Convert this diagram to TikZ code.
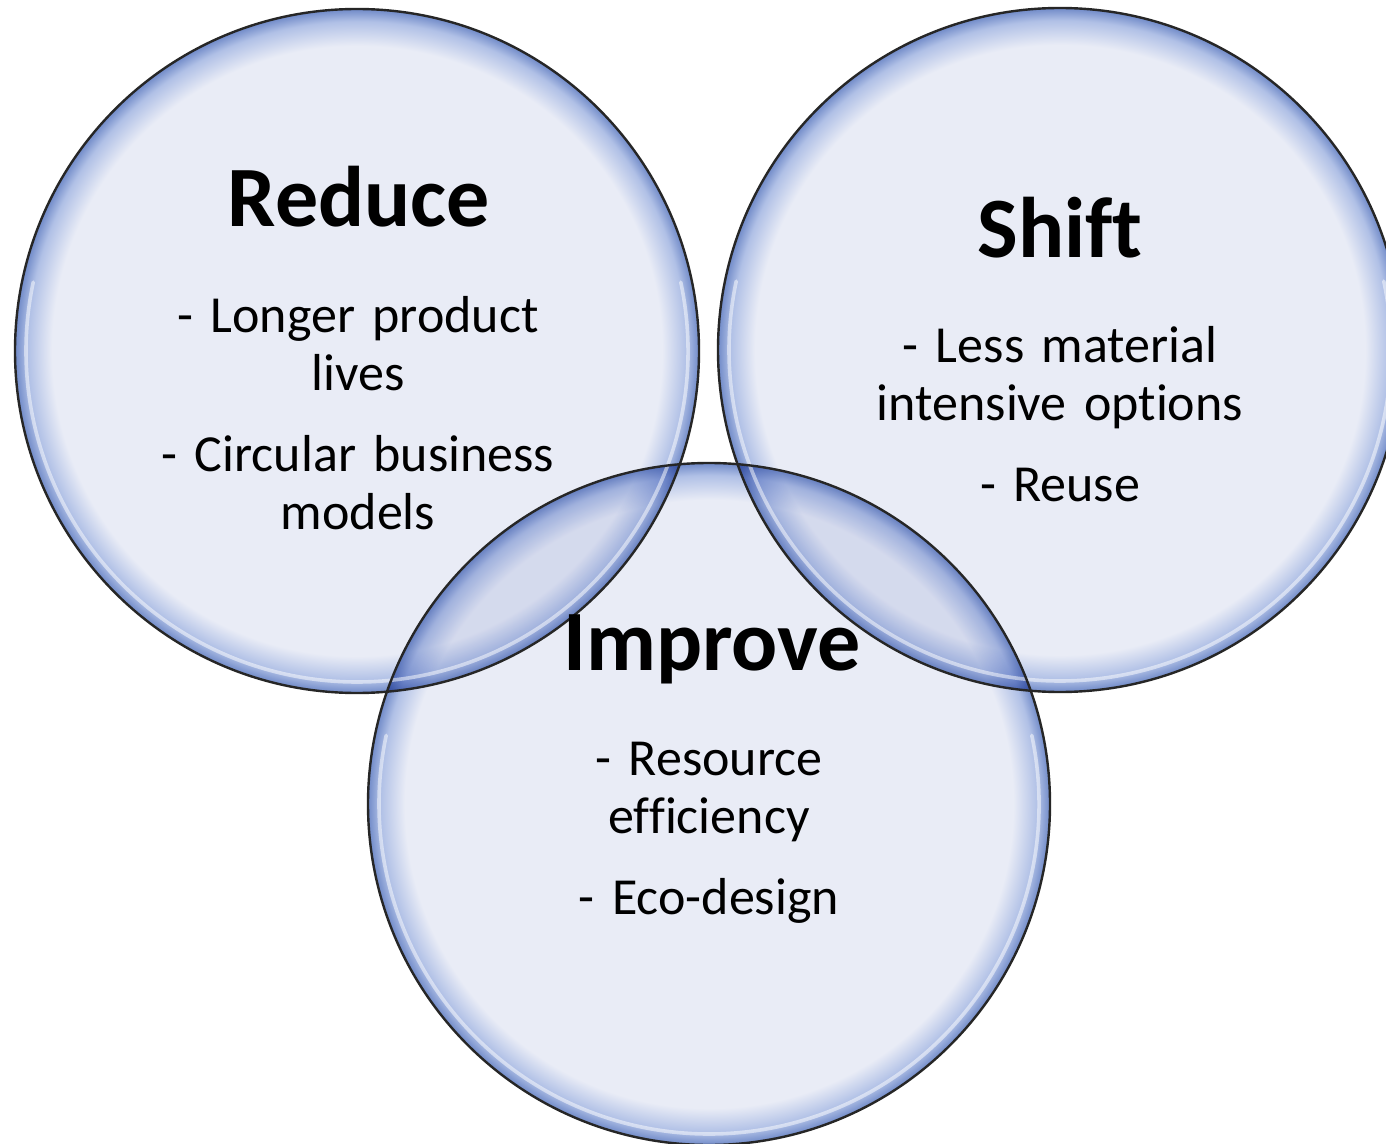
\documentclass[tikz,border=0pt]{standalone}
\usepackage{fontspec}
\setmainfont{Carlito}[Ligatures=NoCommon]
\usetikzlibrary{calc}

\definecolor{bubfill}{RGB}{233,236,246}
\definecolor{bubrim}{RGB}{176,192,230}
\definecolor{bubedge}{RGB}{112,138,200}

\pgfdeclareradialshading{bubble}{\pgfpoint{0bp}{0bp}}{color(0bp)=(bubfill); color(22.3bp)=(bubfill); color(24.1bp)=(bubrim); color(25bp)=(bubedge); color(50bp)=(bubedge)}

\tikzset{
  bubble/.style={shading=bubble},
  rim/.style={draw=black!85, line width=1.2pt},
  glint/.style={white, line width=1.8pt, opacity=0.5, line cap=round},
  title/.style={font=\bfseries\fontsize{43}{52}\selectfont, anchor=base, inner sep=0pt},
  items/.style={font=\fontsize{26}{29}\selectfont, align=center, text width=240pt, anchor=base, inner sep=0pt}
}

\begin{document}
\begin{tikzpicture}[x=0.5pt, y=-0.5pt]
    \useasboundingbox (0,0) rectangle (1386,1144);
    \fill[white] (0,0) rectangle (1386,1144);
    \clip (0,0) rectangle (1386,1144);

    \coordinate (reduce) at (357,351);
    \coordinate (shift) at (1060,350);
    \coordinate (improve) at (709,804);

    % the three bubbles, overlaps get darker
    \begin{scope}[blend mode=multiply]
        \shade[bubble] (reduce) circle (342);
        \shade[bubble] (shift) circle (342);
        \shade[bubble] (improve) circle (341);
    \end{scope}

    \draw[glint] ([shift={(-12:331)}]reduce) arc[start angle=-12, end angle=192, radius=331];
    \draw[glint] ([shift={(-12:331)}]shift) arc[start angle=-12, end angle=192, radius=331];
    \draw[glint] ([shift={(-12:330)}]improve) arc[start angle=-12, end angle=192, radius=330];

    \draw[rim] (reduce) circle (342);
    \draw[rim] (shift) circle (342);
    \draw[rim] (improve) circle (341);

    \node[title] (reduceT) at (359,227) {Reduce};
    \node[items] (reduceL) at (358,333) {- Longer product\\lives\\[11.5pt]- Circular business\\models};

    \node[title] (shiftT) at (1060,258) {Shift};
    \node[items] (shiftL) at (1060,363) {- Less material\\intensive options\\[11.5pt]- Reuse};

    \node[title] (improveT) at (712,670) {Improve};
    \node[items] (improveL) at (709,775) {- Resource\\efficiency\\[11.5pt]- Eco-design};
\end{tikzpicture}
\end{document}
